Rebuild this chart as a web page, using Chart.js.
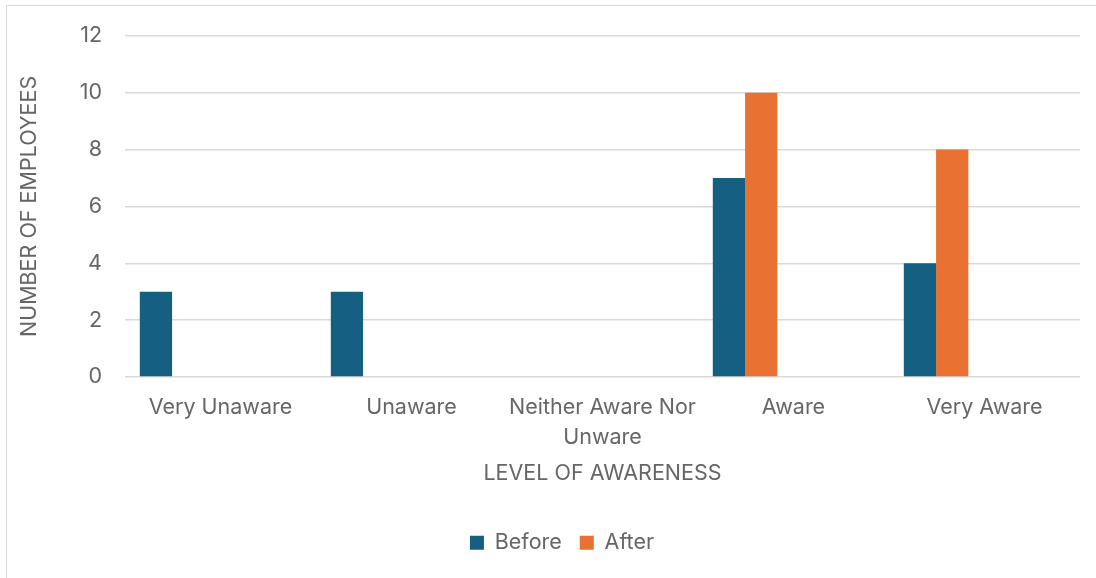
<!DOCTYPE html>
<html>
<head>
<meta charset="utf-8">
<script src="https://cdn.jsdelivr.net/npm/chart.js@4"></script>
<style>
    html, body { margin: 0; padding: 0; background: #ffffff; }
    #wrap { position: relative; width: 1096px; height: 578px; }
    #frame {
        position: absolute;
        left: 6px; top: 5px; right: 0; bottom: 0;
        border-top: 1.5px solid #d9d9d9;
        border-left: 1.5px solid #d9d9d9;
    }
    #awareness-chart { position: absolute; left: 0; top: 0; }
</style>
</head>
<body>
<div id="wrap">
    <div id="frame"></div>
    <canvas id="awareness-chart" width="1096" height="578"></canvas>
</div>
<script>
const levels = ['Very Unaware', 'Unaware', ['Neither Aware Nor', 'Unware'], 'Aware', 'Very Aware']
const before = [3, 3, 0, 7, 4]
const after = [0, 0, 0, 10, 8]
const yTicks = [0, 2, 4, 6, 8, 10, 12]

// the sheet had three empty series next to these two, they keep the bars left in each slot
const empty = [null, null, null, null, null]

const TEXT = '#666666'
const GRID = '#d9d9d9'
const FONT_SIZE = 21.5

Chart.defaults.font.family = 'Inter, "Open Sans", sans-serif'
Chart.defaults.font.size = FONT_SIZE
Chart.defaults.color = TEXT

// legend sits centred under the whole frame, not the canvas
const legendShift = {
    id: 'legendShift',
    afterLayout: function (chart)
    {
        chart.legend.left += 44
    }
}

setAwarenessChart()

function setAwarenessChart()
{
    new Chart('awareness-chart', {
        type: 'bar',
        data: {
            labels: levels,
            datasets: [
                { label: 'Before', data: before, backgroundColor: '#156082' },
                { label: 'After', data: after, backgroundColor: '#e97132' },
                { label: '', data: empty },
                { label: '', data: empty },
                { label: '', data: empty }
            ]
        },
        options: {
            responsive: false,
            animation: false,
            layout: {
                padding: { top: 34, right: 16, bottom: 24, left: 0 }
            },
            datasets: {
                bar: {
                    categoryPercentage: 0.845,
                    barPercentage: 1,
                    borderWidth: 0
                }
            },
            scales: {
                x: {
                    grid: { display: false },
                    border: { display: false },
                    ticks: {
                        padding: 8.5,
                        maxRotation: 0,
                        autoSkip: false,
                        font: { size: FONT_SIZE, lineHeight: 1.35 }
                    },
                    title: {
                        display: true,
                        text: 'LEVEL OF AWARENESS',
                        padding: { top: 0, bottom: 28 },
                        font: { size: FONT_SIZE, lineHeight: 1.2 }
                    },
                    afterFit: function (axis) { axis.height = 137 }
                },
                y: {
                    min: 0,
                    max: 12,
                    afterBuildTicks: function (axis)
                    {
                        axis.ticks = yTicks.map(v => ({ value: v }))
                    },
                    grid: {
                        color: GRID,
                        lineWidth: 1.5,
                        drawTicks: false
                    },
                    border: { display: false },
                    ticks: { padding: 23 },
                    title: {
                        display: true,
                        text: 'NUMBER OF EMPLOYEES',
                        padding: { top: 17, bottom: 0 },
                        font: { size: FONT_SIZE, lineHeight: 1.2 }
                    },
                    afterFit: function (axis) { axis.width = 125 }
                }
            },
            plugins: {
                legend: {
                    position: 'bottom',
                    maxHeight: 40,
                    labels: {
                        boxWidth: 14,
                        boxHeight: 14,
                        padding: 18,
                        filter: item => item.text !== ''
                    }
                },
                tooltip: { enabled: false }
            }
        },
        plugins: [legendShift]
    })
}
</script>
</body>
</html>
